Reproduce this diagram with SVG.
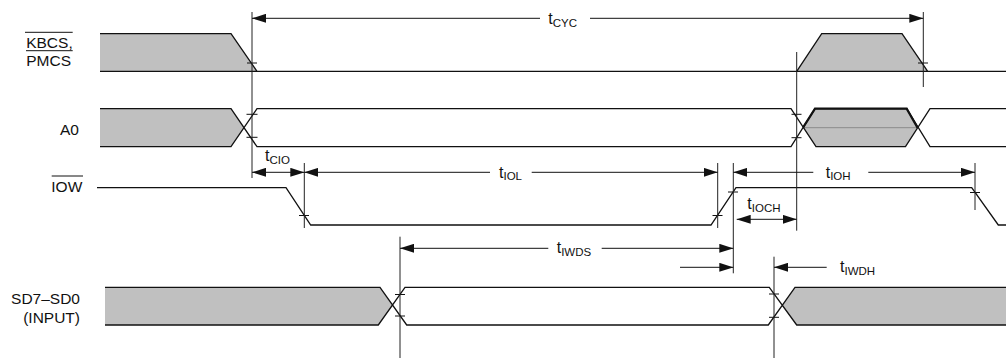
<svg xmlns="http://www.w3.org/2000/svg" width="1006" height="358" viewBox="0 0 1006 358">
<defs>
<marker id="ah" viewBox="0 0 14 9" refX="14" refY="4.5" markerWidth="14" markerHeight="9" markerUnits="userSpaceOnUse" orient="auto-start-reverse">
<path d="M0,0 L14,4.5 L0,9 z" fill="#111"/>
</marker>
<style>
.lbl{font-family:"Liberation Sans",Arial,sans-serif;font-size:15.5px;fill:#111}
.tm{font-family:"Liberation Sans",Arial,sans-serif;font-size:16px;fill:#111}
.sub{font-size:11.5px}
.wave{fill:none;stroke:#111;stroke-width:1.3}
.gray{fill:#c0c0c0;stroke:none}
.ref{stroke:#222;stroke-width:1;fill:none}
.tick{stroke:#111;stroke-width:1;fill:none}
.ovl{stroke:#111;stroke-width:1}
.dim{stroke:#111;stroke-width:1;fill:none}
.ds{marker-start:url(#ah)}
.de{marker-end:url(#ah)}
</style>
</defs>
<rect width="1006" height="358" fill="#fff"/>

<g id="sig-kbcs">
<text class="lbl" x="72.7" y="47.7" text-anchor="end">KBCS,</text>
<line class="ovl" x1="25" y1="32.3" x2="72.7" y2="32.3"/>
<text class="lbl" x="71" y="65.7" text-anchor="end">PMCS</text>
<line class="ovl" x1="26" y1="50.7" x2="72.7" y2="50.7"/>
<polygon class="gray" points="100,33.7 231,33.7 257,71.3 100,71.3"/>
<polygon class="gray" points="796.7,71.3 821.7,33.7 902,33.7 927.7,71.3"/>
<path class="wave" d="M100,33.7 H231 L257,71.3 M100,71.3 H1006 M796.7,71.3 L821.7,33.7 H902 L927.7,71.3"/>
<path class="tick" d="M247,63 H257 M918,63 H928"/>
</g>

<g id="sig-a0">
<text class="lbl" x="79" y="135" text-anchor="end">A0</text>
<polygon class="gray" points="100,108.7 231,108.7 244,127.7 231,146.7 100,146.7"/>
<polygon class="gray" points="803,127.7 815,108.7 906.7,108.7 917.5,127.7 905.5,146.7 816,146.7"/>
<line x1="803" y1="127.7" x2="917.5" y2="127.7" stroke="#8a8a8a" stroke-width="1"/>
<path class="wave" d="M100,108.7 H231 L257,146.7 H791 L815,108.7 H906.7 L930,146.7 H1006 M100,146.7 H231 L257,108.7 H791 L816,146.7 H905.5 L930,108.7 H1006"/>
<path d="M803,127.7 L815,108.7 H906.7 L917.5,127.7" fill="none" stroke="#111" stroke-width="2.2"/>
<path class="tick" d="M246.5,114.3 H257.5 M246.5,137.3 H257.5 M791.5,114.3 H801.5 M791.5,137.7 H801.5"/>
</g>

<g id="sig-iow">
<text class="lbl" x="82.3" y="192.3" text-anchor="end">IOW</text>
<line class="ovl" x1="51.7" y1="176" x2="83" y2="176"/>
<path class="wave" d="M97,187.7 H286 L310.7,225 H711 L736,187.7 H971.7 L998.3,225 H1006"/>
<path class="tick" d="M299,215.5 H309 M712.5,215.5 H722.5 M728,192 H738 M970,192.5 H980"/>
</g>

<g id="sig-sd">
<text class="lbl" x="80" y="304.3" text-anchor="end">SD7–SD0</text>
<text class="lbl" x="80" y="322.5" text-anchor="end">(INPUT)</text>
<polygon class="gray" points="105,287.3 380,287.3 392.5,306 378.3,325 105,325"/>
<polygon class="gray" points="782,306 795,287.3 1006,287.3 1006,325 796.7,325"/>
<path class="wave" d="M105,287.3 H380 L406.7,325 H768.3 L795,287.3 H1006 M105,325 H378.3 L405,287.3 H769.3 L796.7,325 H1006"/>
<path class="tick" d="M395,294.5 H405 M395,316 H405 M769,294 H779 M769,317.3 H779"/>
</g>

<g id="connectors">
<g id="ref-lines">
<line class="ref" x1="252" y1="12" x2="252" y2="178"/>
<line class="ref" x1="923.3" y1="12" x2="923.3" y2="87"/>
<line class="ref" x1="796.7" y1="52" x2="796.7" y2="230.7"/>
<line class="ref" x1="304.3" y1="163" x2="304.3" y2="228"/>
<line class="ref" x1="717.7" y1="163" x2="717.7" y2="228"/>
<line class="ref" x1="733.3" y1="163" x2="733.3" y2="273.3"/>
<line class="ref" x1="975" y1="163" x2="975" y2="210"/>
<line class="ref" x1="400" y1="236.7" x2="400" y2="358"/>
<line class="ref" x1="774" y1="256.7" x2="774" y2="358"/>
</g>
<g id="t-cyc">
<path class="dim ds" d="M252,18.3 H540"/>
<path class="dim de" d="M590,18.3 H923.3"/>
<text class="tm" x="548.3" y="24">t<tspan class="sub" dy="2.7">CYC</tspan></text>
</g>
<g id="t-cio">
<path class="dim ds de" d="M252,172.3 H304.3"/>
<text class="tm" x="265" y="161.3">t<tspan class="sub" dy="2.7">CIO</tspan></text>
</g>
<g id="t-iol">
<path class="dim ds" d="M304.3,172.3 H490"/>
<path class="dim de" d="M531.7,172.3 H717.7"/>
<text class="tm" x="499" y="177.5">t<tspan class="sub" dy="2.7">IOL</tspan></text>
</g>
<g id="t-ioh">
<path class="dim ds" d="M733.3,172.3 H813.3"/>
<path class="dim de" d="M868.3,172.3 H975"/>
<text class="tm" x="825.7" y="177.5">t<tspan class="sub" dy="2.7">IOH</tspan></text>
</g>
<g id="t-ioch">
<path class="dim ds de" d="M736.7,219.3 H796.7"/>
<text class="tm" x="747.3" y="209">t<tspan class="sub" dy="2.7">IOCH</tspan></text>
</g>
<g id="t-iwds">
<path class="dim ds" d="M400,248.3 H548.3"/>
<path class="dim de" d="M601.7,248.3 H733.3"/>
<path class="dim de" d="M680,267.3 H733.3"/>
<text class="tm" x="556.7" y="253">t<tspan class="sub" dy="2.7">IWDS</tspan></text>
</g>
<g id="t-iwdh">
<path class="dim ds" d="M774,267.3 H826.7"/>
<text class="tm" x="840" y="272">t<tspan class="sub" dy="2.7">IWDH</tspan></text>
</g>
</g>
</svg>
